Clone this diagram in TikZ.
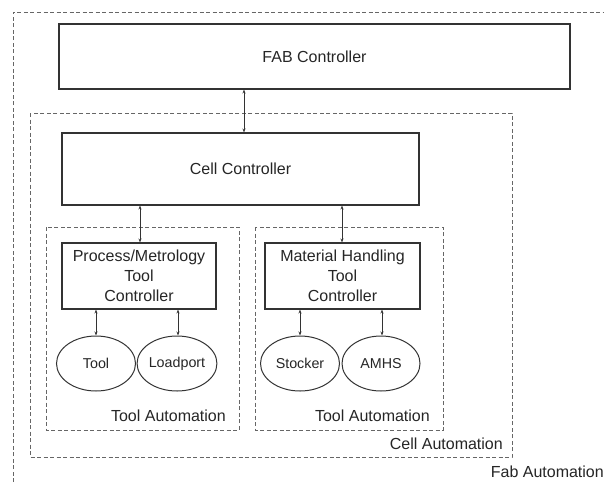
\documentclass[tikz,border=0pt]{standalone}
\usepackage{fontspec}
\setmainfont{Liberation Sans}
\usetikzlibrary{shapes.geometric,arrows.meta}
\begin{document}
\begin{tikzpicture}[x=1pt,y=-1pt,
  boxst/.style={draw=black!80,line width=1.1pt,fill=white,inner sep=0pt,font=\fontsize{16}{20}\selectfont,text=black!85,align=center},
  ellst/.style={ellipse,draw=black!80,line width=1pt,inner sep=0pt,minimum width=79pt,minimum height=55pt,font=\fontsize{14.3}{17}\selectfont,text=black!85},
  dashbox/.style={draw=black!60,line width=0.8pt,dash pattern=on 4pt off 2.5pt},
  lbl/.style={font=\fontsize{16}{20}\selectfont,text=black!85,inner sep=0pt},
  arr/.style={draw=black!80,line width=0.8pt,{Stealth[length=4pt,width=3pt]}-{Stealth[length=4pt,width=3pt]}}
]
\useasboundingbox (0,0) rectangle (604,482);
\fill[white] (0,0) rectangle (604,482);
% outer fab automation (extends beyond frame)
\draw[dashbox] (13,482) -- (13,12) -- (604,12);
% cell automation
\draw[dashbox] (30,113) rectangle (512,457);
% tool automation boxes
\draw[dashbox] (46,227) rectangle (239,430);
\draw[dashbox] (255,227) rectangle (443,430);

\node[boxst,minimum width=511pt,minimum height=65pt] (fab) at (314.5,56.5) {FAB Controller};
\node[boxst,minimum width=357pt,minimum height=72pt] (cell) at (240.5,169) {Cell Controller};
\node[boxst,minimum width=154pt,minimum height=66pt] (pm) at (139,276) {Process/Metrology\\Tool\\Controller};
\node[boxst,minimum width=155pt,minimum height=66pt] (mh) at (342.5,276) {Material Handling\\Tool\\Controller};

\node[ellst] (tool) at (96,363.5) {Tool};
\node[ellst,minimum width=78pt] (lp) at (177,363.5) {Loadport};
\node[ellst] (stk) at (300,363.5) {Stocker};
\node[ellst,minimum width=78pt] (amhs) at (381,363.5) {AMHS};

\node[lbl,anchor=east] (ta1) at (226,416) {Tool Automation};
\node[lbl,anchor=east] (ta2) at (430,416) {Tool Automation};
\node[lbl,anchor=east] (ca) at (503,444) {Cell Automation};
\node[lbl,anchor=east] (fa) at (604,472) {Fab Automation};

\coordinate (x1) at (244,0);
\coordinate (x2) at (140,0);
\coordinate (x3) at (342,0);
\coordinate (x4) at (178,0);
\coordinate (x5) at (382,0);
\draw[arr] (fab.south -| x1) -- (cell.north -| x1);
\draw[arr] (cell.south -| x2) -- (pm.north -| x2);
\draw[arr] (cell.south -| x3) -- (mh.north -| x3);
\draw[arr] (pm.south -| tool) -- (tool.north);
\draw[arr] (pm.south -| x4) -- (lp.north -| x4);
\draw[arr] (mh.south -| stk) -- (stk.north);
\draw[arr] (mh.south -| x5) -- (amhs.north -| x5);
\end{tikzpicture}
\end{document}
